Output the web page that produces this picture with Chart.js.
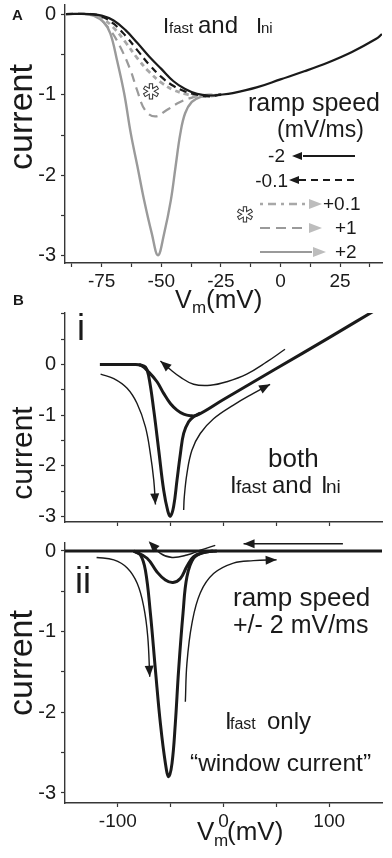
<!DOCTYPE html>
<html>
<head>
<meta charset="utf-8">
<script src="https://cdn.jsdelivr.net/npm/chart.js@4.4.1/dist/chart.umd.min.js"></script>
<style>
  html, body { margin: 0; padding: 0; background: #fff; }
  body { width: 392px; height: 858px; position: relative; overflow: hidden; }
  canvas { position: absolute; left: 0; }
  #chartA { top: 0; }
  #chartBi { top: 285px; }
  #chartBii { top: 535px; }
</style>
</head>
<body>
<canvas id="chartA" width="392" height="318" style="width:392px;height:318px"></canvas>
<canvas id="chartBi" width="392" height="250" style="width:392px;height:250px"></canvas>
<canvas id="chartBii" width="392" height="323" style="width:392px;height:323px"></canvas>
<script>
// Panel A: Ifast + Ini for five ramp speeds (Vm in mV, normalised current)
const vA_neg2 = [-90, -80, -75, -70, -65, -60, -55, -50, -45, -40, -35, -30, -25, -20, -10, 0, 10, 20, 30, 40, 42.6];
const iA_neg2 = [0, 0, -0.02, -0.08, -0.2, -0.36, -0.53, -0.68, -0.83, -0.93, -0.99, -1.01, -1.0, -0.98, -0.91, -0.81, -0.71, -0.6, -0.47, -0.31, -0.25];
const vA_neg01 = [-90, -80, -75, -70, -65, -60, -55, -50, -45, -40, -35, -30, -25];
const iA_neg01 = [0, 0, -0.03, -0.12, -0.27, -0.45, -0.63, -0.78, -0.89, -0.96, -1.0, -1.02, -1.0];
const vA_pos01 = [-80, -75, -70, -65, -60, -55, -50, -45, -40, -35, -30, -25];
const iA_pos01 = [0, -0.05, -0.17, -0.35, -0.55, -0.72, -0.85, -0.94, -0.99, -1.02, -1.02, -1.0];
const vA_pos1 = [-80, -77, -71.4, -67.2, -63, -60.2, -56.8, -52.6, -47.7, -42.1, -36.5, -33.7, -30, -25];
const iA_pos1 = [0, -0.03, -0.2, -0.41, -0.69, -0.94, -1.19, -1.27, -1.19, -1.09, -1.03, -1.01, -1.0, -1.0];
const vA_pos2 = [-82, -78.4, -74.2, -71.4, -68.6, -65.6, -62.8, -60, -57.2, -54, -51.4, -48.8, -46, -44, -42, -40, -37.2, -33.7, -29.5, -25];
const iA_pos2 = [0, -0.02, -0.1, -0.24, -0.57, -0.98, -1.48, -1.89, -2.31, -2.72, -2.99, -2.72, -2.31, -1.89, -1.48, -1.23, -1.09, -1.03, -1.01, -1.0];

// Panel B i: both Ifast and Ini, ramp +/- 2 mV/ms
const vBi_slow = [-117, -100, -85, -78, -70.7, -62.9, -56.6, -50.3, -44, -37.7, -31.4, -25, 0, 50, 100, 150];
const iBi_slow = [0, 0, 0, -0.02, -0.15, -0.34, -0.57, -0.77, -0.9, -0.98, -1.01, -1.0, -0.69, -0.08, 0.53, 1.15];
const vBi_fast = [-80, -73.9, -70.7, -66, -61.3, -56.6, -52.8, -50.3, -47.2, -44, -40.8, -37.7, -33, -28.3, -22];
const iBi_fast = [0, -0.05, -0.24, -0.9, -1.69, -2.48, -2.88, -2.99, -2.8, -2.28, -1.76, -1.36, -1.13, -1.03, -0.96];
const vBi_arrowUp = [58.2, 40.9, 22, 3.2, -12.5, -28.3, -40.8, -50.3, -59.7];
const iBi_arrowUp = [0.3, 0.05, -0.19, -0.34, -0.41, -0.39, -0.25, -0.1, 0.07];
const vBi_arrowRight = [-37.7, -37.1, -34.6, -29.9, -22, -9.4, 9.4, 28.3, 44.1];
const iBi_arrowRight = [-2.87, -2.61, -2.15, -1.69, -1.36, -1.07, -0.8, -0.57, -0.39];
const vBi_arrowDown = [-116.3, -103.8, -91.2, -81.8, -73.9, -69.2, -66, -64.4];
const iBi_arrowDown = [-0.19, -0.28, -0.47, -0.77, -1.23, -1.76, -2.28, -2.76];

// Panel B ii: Ifast only ("window current")
const vBii_flat = [-150, 150];
const iBii_flat = [0, 0];
const vBii_deep = [-85, -78.6, -73.9, -69.2, -64.4, -59.7, -55, -51.9, -48.7, -45.6, -42.5, -38.3, -34.6, -28.3, -18.9, -6.3];
const iBii_deep = [0, -0.05, -0.24, -0.77, -1.48, -2.14, -2.63, -2.8, -2.63, -2.14, -1.48, -0.77, -0.32, -0.09, -0.02, 0];
const vBii_shallow = [-85, -72.3, -62.9, -55, -47.8, -40.8, -34.6, -28.3, -18.9, -10];
const iBii_shallow = [0, -0.09, -0.26, -0.36, -0.39, -0.34, -0.19, -0.07, -0.02, 0];
const vBii_arrowUp = [-7.8, -22, -34.6, -48.7, -59.7, -70.8];
const iBii_arrowUp = [0.07, 0.01, -0.05, -0.08, -0.03, 0.12];
const vBii_arrowBack = [113, 19];
const iBii_arrowBack = [0.09, 0.09];
const vBii_arrowRight = [-36.1, -34.6, -29.9, -22, -9.4, 9.4, 28.3, 50.3];
const iBii_arrowRight = [-1.87, -1.39, -0.9, -0.52, -0.28, -0.15, -0.12, -0.11];
const vBii_arrowDown = [-120.1, -103.8, -91.1, -81.7, -75.5, -71.7, -69.8];
const iBii_arrowDown = [-0.08, -0.11, -0.21, -0.4, -0.69, -1.06, -1.56];

// tick positions and which of them carry a label
const xTicksA = [-87.5, -75, -62.5, -50, -37.5, -25, -12.5, 0, 12.5, 25, 37.5];
const xLabelsA = [-75, -50, -25, 0, 25];
const yTicksA = [0, -0.5, -1, -1.5, -2, -2.5, -3];
const yTicksBi = [1, 0.5, 0, -0.5, -1, -1.5, -2, -2.5, -3];
const yTicksBii = [0, -0.5, -1, -1.5, -2, -2.5, -3];
const yLabels = [0, -1, -2, -3];
const xTicksB = [-100, -50, 0, 50, 100];
const xLabelsBii = [-100, 0, 100];

const AXIS = '#363636';
const INK = '#1a1a1a';
const GREY = '#9a9a9a';
const FONT = "'Liberation Sans', Arial, Helvetica, sans-serif";

function xyPoints(xs, ys) {
    return xs.map((x, k) => ({ x: x, y: ys[k] }));
}

function lineSet(xs, ys, color, width, dash, arrow) {
    return {
        data: xyPoints(xs, ys),
        borderColor: color,
        borderWidth: width,
        borderDash: dash || [],
        pointRadius: 0,
        tension: 0.4,
        fill: false,
        arrow: !!arrow
    };
}

function xAxis(min, max, tickVals, labelVals, height) {
    return {
        type: 'linear',
        min: min,
        max: max,
        afterBuildTicks: s => { s.ticks = tickVals.map(v => ({ value: v })); },
        afterFit: s => { s.height = height; s.paddingLeft = 0; s.paddingRight = 0; },
        grid: { drawOnChartArea: false, tickLength: 4, tickColor: AXIS, tickWidth: 1.2 },
        border: { color: AXIS, width: 1.4 },
        ticks: {
            autoSkip: false,
            maxRotation: 0,
            padding: 3,
            color: INK,
            font: { family: FONT, size: 19 },
            callback: v => labelVals.includes(v) ? String(v) : ''
        }
    };
}

function yAxis(min, max, tickVals, labelVals) {
    return {
        type: 'linear',
        min: min,
        max: max,
        afterBuildTicks: s => { s.ticks = tickVals.map(v => ({ value: v })); },
        afterFit: s => { s.width = 65; s.paddingTop = 0; s.paddingBottom = 0; },
        grid: { drawOnChartArea: false, tickLength: 4, tickColor: AXIS, tickWidth: 1.2 },
        border: { color: AXIS, width: 1.4 },
        ticks: {
            autoSkip: false,
            padding: 5,
            color: INK,
            font: { family: FONT, size: 20 },
            callback: v => labelVals.includes(v) ? String(v) : ''
        }
    };
}

function drawHead(ctx, x, y, ang, len, half, color) {
    ctx.save();
    ctx.translate(x, y);
    ctx.rotate(ang);
    ctx.beginPath();
    ctx.moveTo(0, 0);
    ctx.lineTo(-len, -half);
    ctx.lineTo(-len, half);
    ctx.closePath();
    ctx.fillStyle = color;
    ctx.fill();
    ctx.restore();
}

// arrowhead at the last point of every dataset flagged with arrow: true
const arrowPlugin = {
    id: 'arrowEnds',
    afterDatasetsDraw(chart) {
        const ctx = chart.ctx;
        chart.data.datasets.forEach((ds, k) => {
            if (!ds.arrow) return;
            const pts = chart.getDatasetMeta(k).data;
            const a = pts[pts.length - 2], b = pts[pts.length - 1];
            drawHead(ctx, b.x, b.y, Math.atan2(b.y - a.y, b.x - a.x), 11, 4.5, ds.borderColor);
        });
    }
};

// free text, legend strokes and heads, page coordinates shifted by opts.top
const notesPlugin = {
    id: 'notes',
    afterDraw(chart, args, opts) {
        const ctx = chart.ctx;
        ctx.save();
        ctx.translate(0, -(opts.top || 0));
        (opts.lines || []).forEach(l => {
            ctx.beginPath();
            ctx.setLineDash(l.dash || []);
            ctx.strokeStyle = l.color;
            ctx.lineWidth = l.width;
            ctx.moveTo(l.x1, l.y);
            ctx.lineTo(l.x2, l.y);
            ctx.stroke();
        });
        ctx.setLineDash([]);
        (opts.heads || []).forEach(h => {
            drawHead(ctx, h.x, h.y, h.left ? Math.PI : 0, h.len, h.half, h.color);
        });
        (opts.texts || []).forEach(t => {
            ctx.save();
            ctx.font = (t.w || 'normal') + ' ' + t.s + 'px ' + (t.f || FONT);
            ctx.textAlign = t.a || 'left';
            ctx.textBaseline = 'alphabetic';
            ctx.translate(t.x, t.y);
            if (t.r) ctx.rotate(t.r * Math.PI / 180);
            if (t.outline) {
                ctx.fillStyle = '#fff';
                ctx.fillText(t.t, 0, 0);
                ctx.strokeStyle = '#333';
                ctx.lineWidth = 1;
                ctx.strokeText(t.t, 0, 0);
            } else {
                ctx.fillStyle = t.c || INK;
                ctx.fillText(t.t, 0, 0);
            }
            ctx.restore();
        });
        ctx.restore();
    }
};

function makeChart(id, datasets, scales, padTop, notes) {
    return new Chart(document.getElementById(id), {
        type: 'line',
        data: { datasets: datasets },
        options: {
            responsive: false,
            animation: false,
            layout: { padding: { top: padTop, right: 10, bottom: 0, left: 0 }, autoPadding: false },
            scales: scales,
            plugins: {
                legend: { display: false },
                tooltip: { enabled: false },
                notes: notes
            }
        },
        plugins: [arrowPlugin, notesPlugin]
    });
}

const STAR = "'DejaVu Sans', sans-serif";

makeChart('chartA', [
    lineSet(vA_neg2, iA_neg2, INK, 2.2),
    lineSet(vA_neg01, iA_neg01, INK, 2.2, [7, 5]),
    lineSet(vA_pos01, iA_pos01, '#a8a8a8', 2.8, [5, 4]),
    lineSet(vA_pos1, iA_pos1, GREY, 2.2, [9, 6]),
    lineSet(vA_pos2, iA_pos2, GREY, 2.4)
], {
    x: xAxis(-90.4, 42.6, xTicksA, xLabelsA, 55),
    y: yAxis(-3.087, 0.112, yTicksA, yLabels)
}, 5, {
    top: 0,
    lines: [
        { x1: 303, x2: 355, y: 156, color: INK, width: 2 },
        { x1: 299, x2: 355, y: 180, color: INK, width: 2, dash: [7, 5] },
        { x1: 260, x2: 308, y: 204, color: '#a8a8a8', width: 2.6, dash: [3, 5, 8, 5] },
        { x1: 260, x2: 308, y: 228, color: GREY, width: 2, dash: [10, 6] },
        { x1: 260, x2: 312, y: 252, color: GREY, width: 2 }
    ],
    heads: [
        { x: 292, y: 156, left: true, len: 10, half: 4, color: INK },
        { x: 289, y: 180, left: true, len: 10, half: 4, color: INK },
        { x: 322, y: 204, len: 13, half: 5, color: '#bdbdbd' },
        { x: 322, y: 228, len: 13, half: 5, color: '#bdbdbd' },
        { x: 326, y: 252, len: 13, half: 5, color: '#bdbdbd' }
    ],
    texts: [
        { t: 'A', x: 12, y: 20, s: 15, w: 'bold' },
        { t: 'I', x: 163, y: 33, s: 22 },
        { t: 'fast', x: 169, y: 33, s: 15 },
        { t: 'and', x: 198, y: 33, s: 24 },
        { t: 'I', x: 256, y: 33, s: 22 },
        { t: 'ni', x: 261, y: 33, s: 15 },
        { t: 'ramp speed', x: 248, y: 111, s: 25 },
        { t: '(mV/ms)', x: 277, y: 137, s: 23 },
        { t: '-2', x: 285, y: 162, s: 19, a: 'right' },
        { t: '-0.1', x: 288, y: 187, s: 19, a: 'right' },
        { t: '+0.1', x: 323, y: 210, s: 19 },
        { t: '+1', x: 335, y: 234, s: 19 },
        { t: '+2', x: 335, y: 258, s: 19 },
        { t: '\u2731', x: 151, y: 99, s: 21, a: 'center', f: STAR, outline: true },
        { t: '\u2731', x: 245, y: 222, s: 21, a: 'center', f: STAR, outline: true },
        { t: 'current', x: 32, y: 117, s: 34, a: 'center', r: -90 },
        { t: 'V', x: 175, y: 308, s: 25 },
        { t: 'm', x: 192, y: 313, s: 17 },
        { t: '(mV)', x: 206, y: 308, s: 26 }
    ]
});

makeChart('chartBi', [
    lineSet(vBi_slow, iBi_slow, INK, 3),
    lineSet(vBi_fast, iBi_fast, INK, 3),
    lineSet(vBi_arrowUp, iBi_arrowUp, INK, 1.4, null, true),
    lineSet(vBi_arrowRight, iBi_arrowRight, INK, 1.4, null, true),
    lineSet(vBi_arrowDown, iBi_arrowDown, INK, 1.4, null, true)
], {
    x: xAxis(-150, 150, xTicksB, [], 13),
    y: yAxis(-3.105, 1.015, yTicksBi, yLabels)
}, 28, {
    top: 285,
    texts: [
        { t: 'B', x: 13, y: 305, s: 15, w: 'bold' },
        { t: 'i', x: 77, y: 340, s: 36 },
        { t: 'current', x: 32, y: 453, s: 30, a: 'center', r: -90 },
        { t: 'both', x: 268, y: 467, s: 26 },
        { t: 'I', x: 230, y: 493, s: 24 },
        { t: 'fast', x: 236, y: 493, s: 19 },
        { t: 'and', x: 272, y: 493, s: 24 },
        { t: 'I', x: 321, y: 493, s: 24 },
        { t: 'ni', x: 326, y: 493, s: 19 }
    ]
});

makeChart('chartBii', [
    lineSet(vBii_flat, iBii_flat, INK, 3),
    lineSet(vBii_deep, iBii_deep, INK, 3),
    lineSet(vBii_shallow, iBii_shallow, INK, 3),
    lineSet(vBii_arrowUp, iBii_arrowUp, INK, 1.4, null, true),
    lineSet(vBii_arrowBack, iBii_arrowBack, INK, 1.4, null, true),
    lineSet(vBii_arrowRight, iBii_arrowRight, INK, 1.4, null, true),
    lineSet(vBii_arrowDown, iBii_arrowDown, INK, 1.4, null, true)
], {
    x: xAxis(-150, 150, xTicksB, xLabelsBii, 55),
    y: yAxis(-3.124, 0.099, yTicksBii, yLabels)
}, 8, {
    top: 535,
    texts: [
        { t: 'ii', x: 75, y: 593, s: 36 },
        { t: 'current', x: 32, y: 663, s: 34, a: 'center', r: -90 },
        { t: 'ramp speed', x: 233, y: 606, s: 26 },
        { t: '+/- 2 mV/ms', x: 233, y: 633, s: 25 },
        { t: 'I', x: 225, y: 729, s: 24 },
        { t: 'fast', x: 230, y: 729, s: 16 },
        { t: 'only', x: 267, y: 729, s: 24 },
        { t: '\u201Cwindow current\u201D', x: 190, y: 771, s: 24.5 },
        { t: 'V', x: 197, y: 840, s: 26 },
        { t: 'm', x: 214, y: 846, s: 17 },
        { t: '(mV)', x: 227, y: 840, s: 26 }
    ]
});
</script>
</body>
</html>
